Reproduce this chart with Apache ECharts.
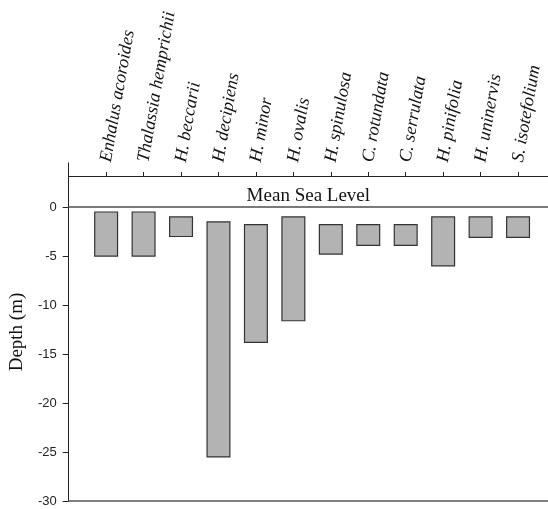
<!DOCTYPE html>
<html>
<head>
<meta charset="utf-8">
<script src="https://cdn.jsdelivr.net/npm/echarts@6/dist/echarts.min.js"></script>
<style>html,body{margin:0;padding:0;background:#fff;}#chart{width:548px;height:509px;}</style>
</head>
<body>
<div id="chart"></div>
<script>
const categories = ['Enhalus acoroides','Thalassia hemprichii','H. beccarii','H. decipiens','H. minor','H. ovalis','H. spinulosa','C. rotundata','C. serrulata','H. pinifolia','H. uninervis','S. isotefolium'];
const depthTop = [-0.5,-0.5,-1,-1.5,-1.8,-1,-1.8,-1.8,-1.8,-1,-1,-1];
const depthBottom = [-5,-5,-3,-25.5,-13.8,-11.6,-4.8,-3.9,-3.9,-6,-3.1,-3.1];
const yTicks = [-30,-25,-20,-15,-10,-5,0];
const seaLevel = 0;
const seaLevelLabel = 'Mean Sea Level';
const yName = 'Depth (m)';

const positions = categories.map((c, i) => i + 1);
const barData = categories.map((c, i) => [i + 1, depthTop[i], depthBottom[i]]);

const chart = echarts.init(document.getElementById('chart'), null, {renderer: 'canvas'});
chart.setOption({
  animation: false,
  backgroundColor: '#fff',
  grid: {left: 68, right: 0, top: 163, bottom: 8, containLabel: false},
  xAxis: [{
    type: 'value', position: 'top', min: 0, max: 12.8, offset: -13,
    splitLine: {show: false},
    axisLine: {show: true, onZero: false, lineStyle: {color: '#222', width: 1}},
    axisTick: {show: true, inside: false, length: 4, customValues: positions, lineStyle: {color: '#222'}},
    axisLabel: {
      show: true, rotate: -80, margin: 14, customValues: positions,
      formatter: v => categories[Math.round(v) - 1] || '',
      fontFamily: '"Liberation Serif", "DejaVu Serif", serif', fontStyle: 'italic', fontSize: 18, color: '#111'
    }
  }, {
    type: 'value', position: 'bottom', min: 0, max: 12.8,
    splitLine: {show: false},
    axisLine: {show: true, onZero: false, lineStyle: {color: '#555', width: 1.5}},
    axisTick: {show: false}, axisLabel: {show: false}
  }],
  yAxis: {
    type: 'value', min: -30, max: 4.5,
    name: yName, nameLocation: 'middle', nameGap: 41, nameRotate: 90,
    nameTextStyle: {fontFamily: '"Liberation Serif", serif', fontSize: 19, color: '#111'},
    splitLine: {show: false},
    axisLine: {show: true, onZero: false, lineStyle: {color: '#222', width: 1}},
    axisTick: {show: true, length: 6, customValues: yTicks, lineStyle: {color: '#222'}},
    axisLabel: {customValues: yTicks, margin: 12, fontFamily: '"Liberation Sans", Arial, sans-serif', fontSize: 13, color: '#222'}
  },
  series: [{
    type: 'custom',
    xAxisIndex: 0,
    data: barData,
    renderItem: function (params, api) {
      const x = api.value(0);
      const p1 = api.coord([x, api.value(1)]);
      const p2 = api.coord([x, api.value(2)]);
      const w = api.size([1, 0])[0] * 0.61;
      return {
        type: 'rect',
        shape: {x: p1[0] - w / 2, y: p1[1], width: w, height: p2[1] - p1[1]},
        style: {fill: '#b3b3b3', stroke: '#333', lineWidth: 1.2}
      };
    },
    encode: {x: 0, y: [1, 2]}
  }, {
    type: 'line',
    data: [],
    markLine: {
      silent: true, symbol: 'none',
      lineStyle: {color: '#7a7a7a', width: 2.2, type: 'solid'},
      label: {show: true, position: 'insideMiddleTop', formatter: seaLevelLabel, distance: 2,
        fontFamily: '"Liberation Serif", serif', fontSize: 19, color: '#111'},
      data: [{yAxis: seaLevel}]
    }
  }]
});
</script>
</body>
</html>
